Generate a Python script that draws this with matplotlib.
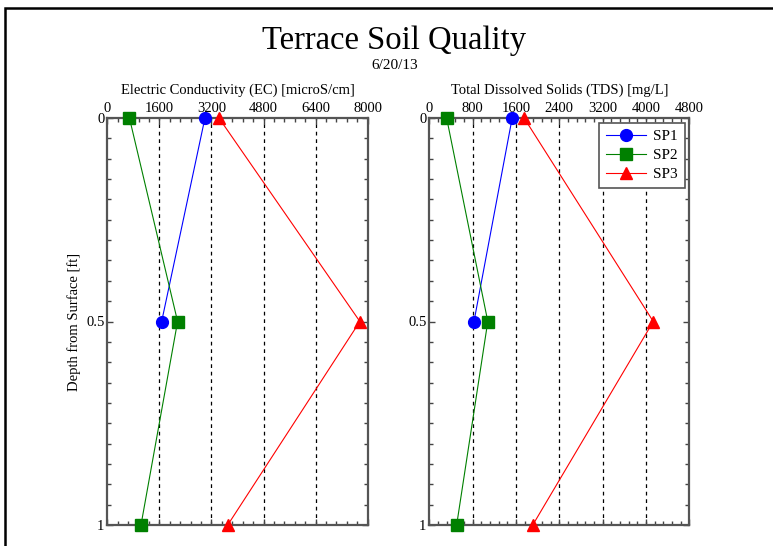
import matplotlib
matplotlib.use("Agg")
import matplotlib.pyplot as plt
from matplotlib.patches import Rectangle
from matplotlib.ticker import MultipleLocator

plt.rcParams['font.family'] = ['Liberation Serif', 'DejaVu Serif']

# depth [ft]
depth = [0, 0.5, 1]
depth_sp1 = [0, 0.5]

# Electric conductivity [microS/cm]
ec_sp1 = [3000, 1670]
ec_sp2 = [680, 2160, 1035]
ec_sp3 = [3430, 7760, 3700]

# Total dissolved solids [mg/L]
tds_sp1 = [1530, 825]
tds_sp2 = [320, 1080, 505]
tds_sp3 = [1750, 4135, 1910]

ec_ticks = [0, 1600, 3200, 4800, 6400, 8000]
tds_ticks = [0, 800, 1600, 2400, 3200, 4000, 4800]

fig = plt.figure(figsize=(7.73, 5.46), dpi=100)
fig.patch.set_facecolor("white")

# frame around the plot window (cropped on right and bottom)
fig.add_artist(Rectangle((5 / 773, -0.1), 1.2, 1 - 8 / 546 + 0.1,
                         transform=fig.transFigure, fill=False,
                         edgecolor="black", linewidth=1.8))

fig.text(0.51, 0.926, "Terrace Soil Quality", ha="center", va="center", fontsize=23.5)
fig.text(0.51, 0.88, "6/20/13", ha="center", va="center", fontsize=11)

ax1 = fig.add_axes([107.3 / 773, 1 - 525 / 546, 260.4 / 773, 407 / 546])
ax2 = fig.add_axes([429.3 / 773, 1 - 525 / 546, 260 / 773, 407 / 546])

series = [
    ("SP1", "blue", "o"),
    ("SP2", "green", "s"),
    ("SP3", "red", "^"),
]


def style(ax, ticks, minor, title):
    ax.set_ylim(1, 0)
    ax.set_xlim(ticks[0], ticks[-1])
    ax.xaxis.tick_top()
    ax.xaxis.set_label_position("top")
    ax.set_xticks(ticks)
    ax.xaxis.set_minor_locator(MultipleLocator(minor))
    ax.set_yticks([0, 0.5, 1])
    ax.set_yticklabels(["0", "0.5", "1"])
    ax.yaxis.set_minor_locator(MultipleLocator(0.05))
    ax.tick_params(which="both", direction="in", top=True, bottom=True,
                   left=True, right=True, color="#444444", labelsize=10.5, pad=2)
    ax.tick_params(which="major", length=4, width=1)
    ax.tick_params(which="minor", length=3, width=1)
    for sp in ax.spines.values():
        sp.set_color("#555555")
        sp.set_linewidth(1.6)
    for t in ticks[1:-1]:
        ax.axvline(t, color="black", linestyle=(0, (3, 3)), linewidth=0.9, zorder=1)
    ax.set_xlabel(title, fontsize=10.5, labelpad=6)


style(ax1, ec_ticks, 320, "Electric Conductivity (EC) [microS/cm]")
style(ax2, tds_ticks, 160, "Total Dissolved Solids (TDS) [mg/L]")
ax1.set_ylabel("Depth from Surface [ft]", fontsize=10.5)

for ax, vals in [(ax1, [ec_sp1, ec_sp2, ec_sp3]), (ax2, [tds_sp1, tds_sp2, tds_sp3])]:
    for (name, color, marker), v in zip(series, vals):
        d = depth_sp1 if name == "SP1" else depth
        ax.plot(v, d, color=color, marker=marker, markersize=8.5, linewidth=0.8,
                label=name, clip_on=False, zorder=3)

leg = ax2.legend(loc="upper right", fontsize=11, fancybox=False, framealpha=1,
                 edgecolor="#555555", borderaxespad=0.3, handlelength=2.6,
                 labelspacing=0.35, borderpad=0.45, handletextpad=0.5)
leg.get_frame().set_linewidth(1.2)

fig.savefig("out.png", dpi=100)
